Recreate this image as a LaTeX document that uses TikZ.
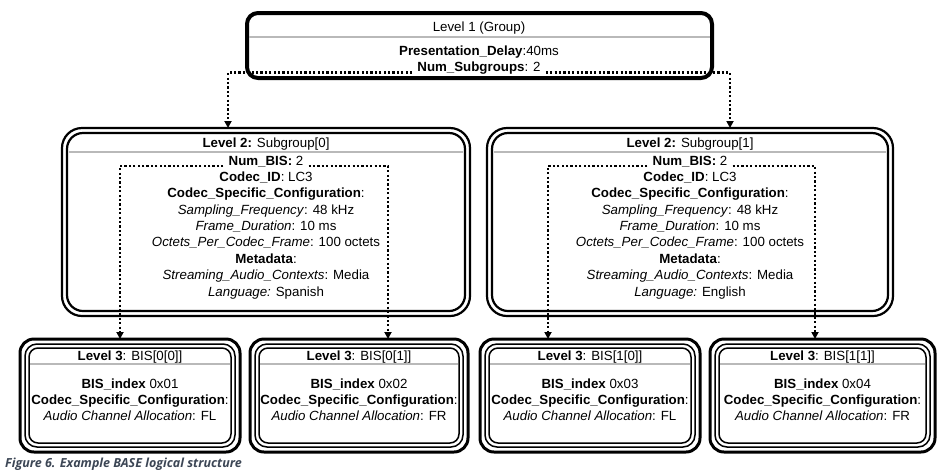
\documentclass[tikz,border=0pt]{standalone}
\usepackage{fontspec}
\setmainfont{Liberation Sans}
\newfontfamily\capfont{Open Sans}
\usetikzlibrary{arrows.meta}
\definecolor{divgray}{RGB}{185,185,185}
\definecolor{capcol}{RGB}{60,70,85}
\tikzset{
  txt/.style={inner sep=0pt, font=\fontsize{13.3}{16}\selectfont, anchor=base},
  div/.style={divgray, line width=2pt},
  dotc/.style={line width=2.6pt, dash pattern=on 2.2pt off 2.2pt, -{Triangle[width=7pt,length=7pt]}},
  lone/.style={line width=4pt, rounded corners=11pt},
  ltwo/.style={line width=2.2pt, rounded corners=20pt},
  lthree/.style={line width=1.5pt, rounded corners=12pt}
}
\begin{document}
\begin{tikzpicture}[x=1pt,y=-1pt]
\useasboundingbox (0,0) rectangle (950,475);
% Level 1
\draw[lone] (247,13) rectangle (712,78);
\draw[div] (249,37) -- (710,37);
\node[txt] (l1t) at (479,31) {Level 1 (Group)};
\node[txt] (pd) at (479,55) {\textbf{Presentation\_Delay}:40ms};
\node[txt] (ns) at (479,71) {\textbf{Num\_Subgroups}: 2};
% Level 2 boxes
\foreach \n/\xa/\xb in {a/62/470,b/487/893}{
  \draw[ltwo] (\xa,128) rectangle (\xb,316);
  \draw[ltwo,rounded corners=16pt] (\xa+5,133) rectangle (\xb-5,311);
  \draw[div] (\xa+7,152) -- (\xb-7,152);
  \coordinate (l2\n) at ({(\xa+\xb)/2},128);
}
\node[txt] (t2a) at (266,147) {\textbf{Level 2:} Subgroup[0]};
\node[txt] (t2b) at (690,147) {\textbf{Level 2:} Subgroup[1]};
\foreach \n/\cx/\lang in {a/266/Spanish,b/690/English}{
  \node[txt] (nb\n) at (\cx,165) {\textbf{Num\_BIS:} 2};
  \node[txt] at (\cx,181) {\textbf{Codec\_ID}: LC3};
  \node[txt] at (\cx,197) {\textbf{Codec\_Specific\_Configuration}:};
  \node[txt] at (\cx,214) {\textit{Sampling\_Frequency}: 48 kHz};
  \node[txt] at (\cx,230) {\textit{Frame\_Duration}: 10 ms};
  \node[txt] at (\cx,246) {\textit{Octets\_Per\_Codec\_Frame}: 100 octets};
  \node[txt] at (\cx,263) {\textbf{Metadata}:};
  \node[txt] at (\cx,279) {\textit{Streaming\_Audio\_Contexts}: Media};
  \node[txt] at (\cx,296) {\textit{Language:} \lang};
}
% Level 3 boxes
\foreach \n/\xa/\xb/\lab/\idx/\ch in {1/20/240/0[0]/01/FL,2/250/468/0[1]/02/FR,3/480/700/1[0]/03/FL,4/710/935/1[1]/04/FR}{
  \draw[line width=3pt, rounded corners=14pt] (\xa,339) rectangle (\xb,452);
  \draw[lthree] (\xa+5,344) rectangle (\xb-5,447);
  \draw[lthree, rounded corners=9pt] (\xa+9,348) rectangle (\xb-9,443);
  \draw[div] (\xa+10,364) -- (\xb-10,364);
  \coordinate (l3\n) at ({(\xa+\xb)/2},339);
  \node[txt] at ({(\xa+\xb)/2},360) {\textbf{Level 3}: BIS[\lab]};
  \node[txt] at ({(\xa+\xb)/2},388) {\textbf{BIS\_index} 0x\idx};
  \node[txt] at ({(\xa+\xb)/2},404) {\textbf{Codec\_Specific\_Configuration}:};
  \node[txt] at ({(\xa+\xb)/2},420) {\textit{Audio Channel Allocation}: \ch};
}
\coordinate (c3a) at (120,339);
\coordinate (c3b) at (388,339);
\coordinate (c3c) at (548,339);
\coordinate (c3d) at (815,339);
% connectors
\draw[dotc] ([xshift=-5pt,yshift=-5pt]ns.west) -| (228,128);
\draw[dotc] ([xshift=5pt,yshift=-5pt]ns.east) -| (730,128);
\draw[dotc] ([xshift=-5pt,yshift=-5pt]nba.west) -| (c3a);
\draw[dotc] ([xshift=5pt,yshift=-5pt]nba.east) -| (c3b);
\draw[dotc] ([xshift=-5pt,yshift=-5pt]nbb.west) -| (c3c);
\draw[dotc] ([xshift=5pt,yshift=-5pt]nbb.east) -| (c3d);
% caption
\node[inner sep=0pt, anchor=base west, text=capcol, font=\capfont\bfseries\itshape\fontsize{12.5}{15}\selectfont] (cap) at (5,467) {Figure 6. Example BASE logical structure};
\end{tikzpicture}
\end{document}
